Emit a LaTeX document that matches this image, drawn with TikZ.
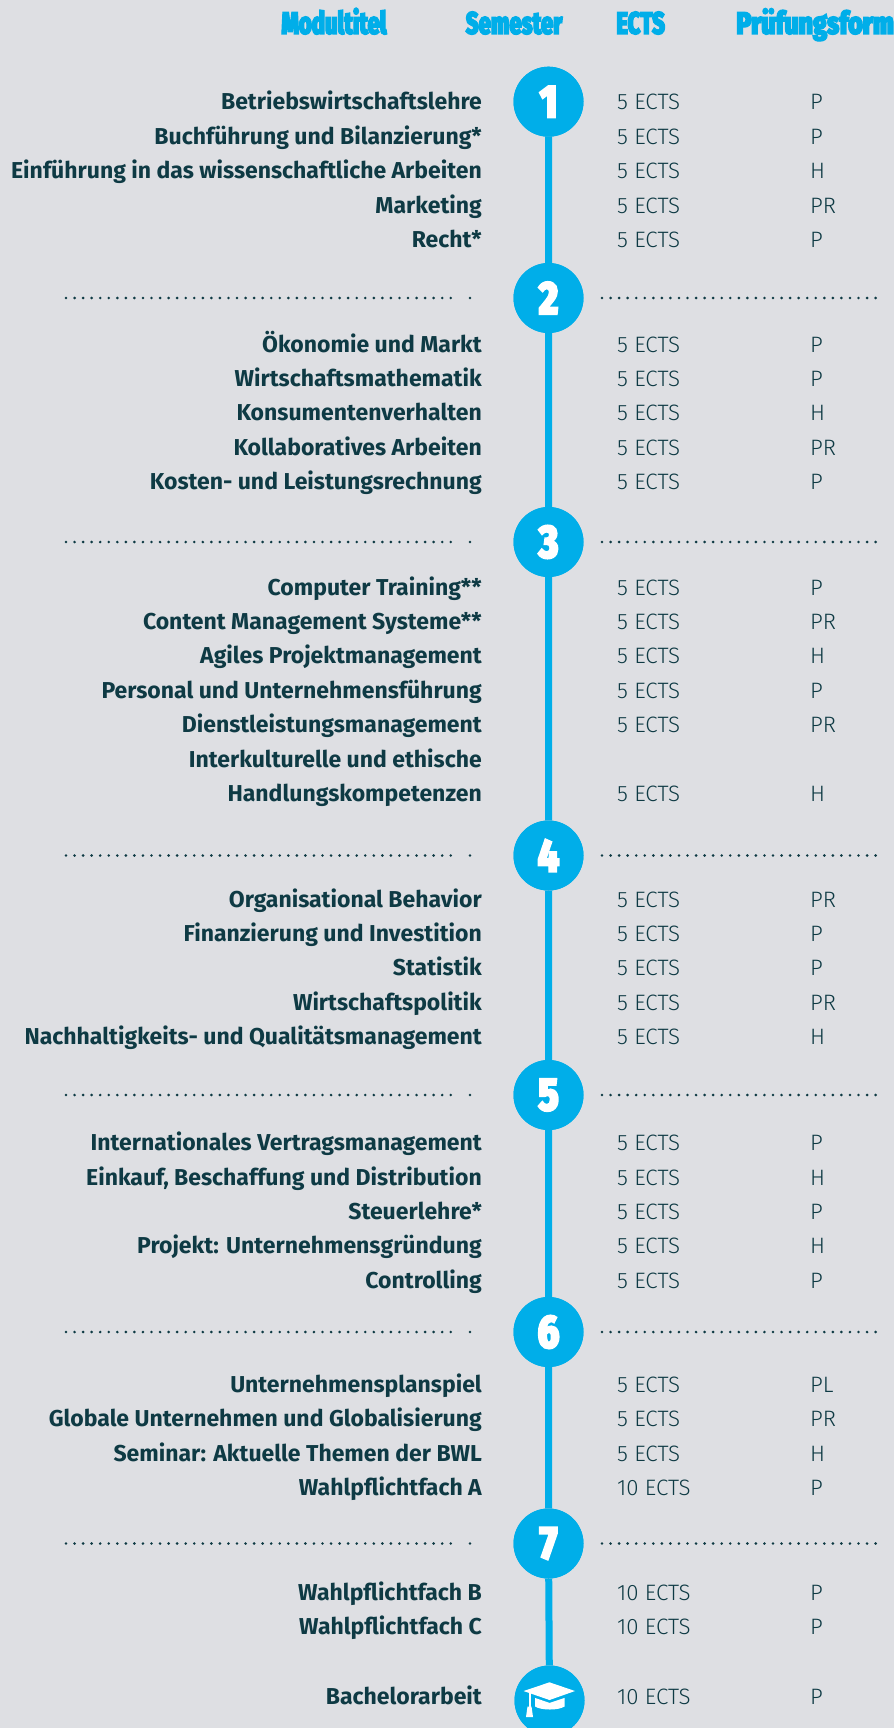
\documentclass[tikz,border=0pt]{standalone}
\usepackage{graphicx}
\usepackage{fontspec}
\setmainfont{Fira Sans}
\newfontfamily\namefont{Fira Sans Bold}
\newfontfamily\lightfont{Fira Sans Light}
\newfontfamily\headfont[FakeStretch=0.7,FakeBold=3.5]{Fira Sans Black}
\newfontfamily\numfont[FakeStretch=0.8,FakeBold=3]{Fira Sans Black}
\definecolor{bgcol}{HTML}{DEDFE3}
\definecolor{tblue}{HTML}{00AEE9}
\definecolor{darktxt}{HTML}{0E3A44}
\tikzset{
  modname/.style={anchor=base east, inner sep=0pt, text=darktxt, font=\namefont\fontsize{23}{27}\selectfont},
  ectsname/.style={anchor=base west, inner sep=0pt, text=darktxt, font=\lightfont\fontsize{22.3}{26}\selectfont},
  examname/.style={anchor=base west, inner sep=0pt, text=darktxt, font=\lightfont\fontsize{22.3}{26}\selectfont},
  semcirc/.style={circle, fill=tblue, minimum size=70pt, inner sep=0pt, text=white, font=\numfont\fontsize{47}{47}\selectfont},
  vline/.style={draw=tblue, line width=7pt},
  dotline/.style={draw=darktxt, line width=2.9pt, line cap=round, dash pattern=on 0pt off 8.55pt},
  headtext/.style={anchor=base, inner sep=0pt, text=tblue, font=\headfont\fontsize{31.5}{31.5}\selectfont},
  capicon/.style={fill=white, draw=none}
}
\begin{document}
\begin{tikzpicture}[x=1pt, y=-1pt]
\fill[bgcol] (0,0) rectangle (894,1728);
\useasboundingbox (0,0) rectangle (894,1728);
% header
\node[headtext] (hmod) at (334,34) {Modultitel};
\node[headtext] (hsem) at (514,34) {Semester};
\node[headtext] (hects) at (640.7,34) {ECTS};
\node[headtext, anchor=base east] (hexam) at (894,34) {\scalebox{1.13}[1]{Prüfungsform}};
% dotted separators
\foreach \c [count=\i from 2] in {298,542,855.5,1095,1332,1543.5} {
  \coordinate (dl\i a) at (66,\c);
  \coordinate (dl\i b) at (459,\c);
  \coordinate (dl\i c) at (470,\c);
  \coordinate (dr\i a) at (602,\c);
  \coordinate (dr\i b) at (876,\c);
  \draw[dotline] (dl\i a) -- (dl\i b);
  \fill[darktxt] (dl\i c) circle (1.45);
  \draw[dotline] (dr\i a) -- (dr\i b);
}
% semester circles
\foreach \c [count=\i] in {101.7,298,542,855.5,1095,1332,1543.5} {
  \node[semcirc] (s\i) at (548.5,\c) {\i};
}
\node[semcirc] (cap) at (549.5,1700.5) {};
\draw[vline] (s1) -- (s2) -- (s3) -- (s4) -- (s5) -- (s6) -- (s7) -- (cap);
\foreach \i in {1,...,7} { \node[semcirc] at (s\i) {\i}; }
\node[semcirc] at (cap) {};
% graduation cap icon
\begin{scope}[shift={(cap.center)}]
  \fill[capicon] (-26,-9.5) -- (0,-18.2) -- (25.5,-9.5) -- (0,-0.5) -- cycle;
  \fill[capicon] (-14.5,-2.6) -- (0,2.4) -- (15,-2.6) -- (15,6) .. controls (9,10) and (-8,10) .. (-14.5,6) -- cycle;
  \fill[capicon] (-21,-8.5) rectangle (-19,7);
  \fill[capicon] (-22,6) -- (-18,6) -- (-16.5,16.5) -- (-23.5,16.5) -- cycle;
\end{scope}
% semester 1
\foreach \y/\t/\e/\p [count=\i] in {
  109.9/Betriebswirtschaftslehre/5 ECTS/P,
  144.3/Buchführung und Bilanzierung*/5 ECTS/P,
  178.7/Einführung in das wissenschaftliche Arbeiten/5 ECTS/H,
  213.1/Marketing/5 ECTS/PR,
  247.5/Recht*/5 ECTS/P} {
  \node[modname] (m1-\i) at (482,\y) {\t};
  \node[ectsname] (e1-\i) at (617,\y) {\e};
  \node[examname] (p1-\i) at (810,\y) {\p};
}
% semester 2
\foreach \y/\t/\e/\p [count=\i] in {
  352/Ökonomie und Markt/5 ECTS/P,
  386.4/Wirtschaftsmathematik/5 ECTS/P,
  420.8/Konsumentenverhalten/5 ECTS/H,
  455.2/Kollaboratives Arbeiten/5 ECTS/PR,
  489.6/Kosten- und Leistungsrechnung/5 ECTS/P} {
  \node[modname] (m2-\i) at (482,\y) {\t};
  \node[ectsname] (e2-\i) at (617,\y) {\e};
  \node[examname] (p2-\i) at (810,\y) {\p};
}
% semester 3
\foreach \y/\t/\e/\p [count=\i] in {
  595.1/Computer Training**/5 ECTS/P,
  629.5/Content Management Systeme**/5 ECTS/PR,
  663.9/Agiles Projektmanagement/5 ECTS/H,
  698.3/Personal und Unternehmensführung/5 ECTS/P,
  732.7/Dienstleistungsmanagement/5 ECTS/PR,
  801.5/Handlungskompetenzen/5 ECTS/H} {
  \node[modname] (m3-\i) at (482,\y) {\t};
  \node[ectsname] (e3-\i) at (617,\y) {\e};
  \node[examname] (p3-\i) at (810,\y) {\p};
}
\node[modname] (m3-6a) at (482,767.1) {Interkulturelle und ethische};
% semester 4
\foreach \y/\t/\e/\p [count=\i] in {
  907/Organisational Behavior/5 ECTS/PR,
  941.4/Finanzierung und Investition/5 ECTS/P,
  975.8/Statistik/5 ECTS/P,
  1010.2/Wirtschaftspolitik/5 ECTS/PR,
  1044.6/Nachhaltigkeits- und Qualitätsmanagement/5 ECTS/H} {
  \node[modname] (m4-\i) at (482,\y) {\t};
  \node[ectsname] (e4-\i) at (617,\y) {\e};
  \node[examname] (p4-\i) at (810,\y) {\p};
}
% semester 5
\foreach \y/\t/\e/\p [count=\i] in {
  1150.6/Internationales Vertragsmanagement/5 ECTS/P,
  1185/{Einkauf, Beschaffung und Distribution}/5 ECTS/H,
  1219.4/Steuerlehre*/5 ECTS/P,
  1253.8/Projekt: Unternehmensgründung/5 ECTS/H,
  1288.2/Controlling/5 ECTS/P} {
  \node[modname] (m5-\i) at (482,\y) {\t};
  \node[ectsname] (e5-\i) at (617,\y) {\e};
  \node[examname] (p5-\i) at (810,\y) {\p};
}
% semester 6
\foreach \y/\t/\e/\p [count=\i] in {
  1392.2/Unternehmensplanspiel/5 ECTS/PL,
  1426.6/Globale Unternehmen und Globalisierung/5 ECTS/PR,
  1461/Seminar: Aktuelle Themen der BWL/5 ECTS/H,
  1495.4/Wahlpflichtfach A/10 ECTS/P} {
  \node[modname] (m6-\i) at (482,\y) {\t};
  \node[ectsname] (e6-\i) at (617,\y) {\e};
  \node[examname] (p6-\i) at (810,\y) {\p};
}
% semester 7
\foreach \y/\t/\e/\p [count=\i] in {
  1600/Wahlpflichtfach B/10 ECTS/P,
  1634.5/Wahlpflichtfach C/10 ECTS/P} {
  \node[modname] (m7-\i) at (482,\y) {\t};
  \node[ectsname] (e7-\i) at (617,\y) {\e};
  \node[examname] (p7-\i) at (810,\y) {\p};
}
% thesis
\node[modname] (m8-1) at (482,1704.8) {Bachelorarbeit};
\node[ectsname] (e8-1) at (617,1704.8) {10 ECTS};
\node[examname] (p8-1) at (810,1704.8) {P};
\end{tikzpicture}
\end{document}
